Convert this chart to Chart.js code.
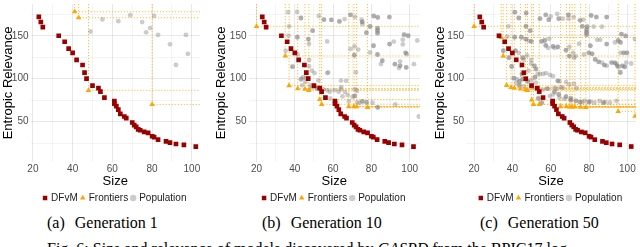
<!DOCTYPE html>
<html>
<head>
<meta charset="utf-8">
<script src="https://cdn.jsdelivr.net/npm/chart.js@4.4.1/dist/chart.umd.min.js"></script>
<style>
  body { margin: 0; background: #fff; width: 640px; height: 247px; overflow: hidden; position: relative; }
  canvas { position: absolute; top: 0; }
  .sub { position: absolute; top: 214.6px; font: 16px/16px "Liberation Serif", "Times New Roman", serif; color: #000; white-space: nowrap; }
  .sub span { margin-left: 10px; }
  #fig { position: absolute; left: 47px; top: 241px; font: 16px/16px "Liberation Serif", "Times New Roman", serif; color: #000; white-space: nowrap; }
</style>
</head>
<body>
<canvas id="g1" width="204" height="213" style="left:0px"></canvas>
<canvas id="g2" width="211" height="213" style="left:213px"></canvas>
<canvas id="g3" width="208" height="213" style="left:432px"></canvas>
<div class="sub" style="left:47px">(a)<span>Generation 1</span></div>
<div class="sub" style="left:262px">(b)<span>Generation 10</span></div>
<div class="sub" style="left:480px">(c)<span>Generation 50</span></div>
<div id="fig">Fig. 6: Size and relevance of models discovered by <i>GASPD</i> from the BPIC17 log.</div>
<script>
// eixos
const Y_MIN = 3, Y_MAX = 187;
const xTickLabels = [20, 40, 60, 80, 100];
const xGrid = [20, 30, 40, 50, 60, 70, 80, 90, 100];
const yTickLabels = [50, 100, 150];
const yGrid = [25, 50, 75, 100, 125, 150, 175];

// DFvM (igual nos tres graficos) - [size, relevance]
const dfvm = [[23,172],[24,166],[25,160],[33,150],[36,143],[38,135],[40,130],[42,122],[45,116],[46,107],
  [47,100],[50,92],[53,89],[54,85],[56,78],[61,74],[61,71],[62,68],[63,64],[64,59],[66,56],[67,54],
  [70,49],[71,46],[72,44],[73,41],[74,40],[76,38],[78,37],[80,33],[81,32],[83,29],[87,27],[89,25.5],
  [92,24],[96,23],[102,21]];

// Geracao 1
const frontiers1 = [[41,178],[43,171],[48,86.5],[80,70]];
const population1 = [[49,155],[55,169],[63,167],[69,174],[75,166],[77,154],[79,159],[81,173],[83,151],
  [89,140],[92,116],[97,151],[98,129]];

// Geracao 10
const frontiers10 = [[20,161],[35,126.5],[37,92],[41.5,88.5],[45.3,87.7],[47.3,86.3],[53,75.8],[54,70.2],
  [68.2,67.6],[70.9,67.6],[72.3,67.4],[78,66.5]];
const population10 = [
  [36.5,177.5],[41.2,177.8],[43.2,170.7],[43.2,170.7],[37,161],[36.7,150],[41.3,148.3],[41.3,148.3],
  [47.1,146.2],[47.1,146.2],[47.4,140.7],[49.3,155.9],[49.3,155.9],[52.5,173],[35.2,132.7],[41.4,128.2],
  [38.8,114],[38.8,114],[47.5,121.8],[47.4,114.4],[48.9,109.3],[50.3,106.6],[43.1,99.1],[44.3,101.7],
  [45.5,96],[48.1,92.3],[50.6,90.3],[52.3,89.2],[43.5,99.7],[45.8,100.9],[52.3,98],[48.1,88.6],[51.5,88.6],
  [43.8,92.3],[55,87.5],[57,86.5],[57.4,107.4],
  [55.2,168.8],[55.2,168.8],[56.9,143.4],[57,106.6],[58.3,84.7],[59.1,168.4],[59.1,168.4],
  [63.3,166.7],[63.3,166.7],[66,169.4],[69.1,174.4],[69.1,174.4],[71.4,172],[74.9,168.8],
  [75.2,166.1],[75.2,166.1],[75.3,163.5],[77.4,153.6],[77.4,153.6],[79.3,160.8],[79.3,160.8],
  [81.2,173],[81.2,173],[83.3,171.4],[83.3,171.4],[83.2,159],[83.2,159],[83.2,156],[83.2,156],
  [83.2,153],[83.2,153],[89.4,171.8],[89.4,171.8],[89.5,140.3],[89.5,140.3],[91.7,143.3],
  [81.1,138.4],[81.1,138.4],[79.3,130.5],[83.2,128.2],[83.2,128.2],[85.7,121],[85.7,121],[85,117],
  [92.3,116.9],[92.3,116.9],[95,115],[95,115],[95,120],[94.4,112.4],[96.4,145.4],[96.4,139.9],
  [97.1,151.3],[97.1,151.3],[99.2,150],[99.2,150],[97.9,130.1],[97.9,130.1],[98.5,128.6],
  [98.2,113.1],[98.2,113.1],[102.2,116.9],[104,144.5],[104.8,56],
  [69.1,134.7],[71.1,127.3],[71.1,127.3],[73.1,133.9],[71.2,137.6],[71.9,107.4],
  [64.1,97.8],[66.8,97.5],[64,87.7],[71.4,87.7],[60.7,86.6],[62.9,84.7],[66.2,84.6],[72.5,86],[64.2,90.3],
  [64.9,79.5],[67.6,81],[70.2,79],[71.3,80],[71.3,80],[58.5,77],[68.2,73.5],[72.6,72.2],[73.8,72],
  [75.3,73.6],[75.3,73.6],[77.5,72.4],[77.5,72.4],[80.6,72],[83.3,66.5],[83.3,66.5],[92.5,70]];

// Geracao 50
const frontiers50 = [[20,161],[34.2,148],[35.2,126.4],[37,92.3],[39.3,89.8],[41,89],[44.2,88.2],
  [46.8,87.3],[47.9,86.5],[50.1,75.2],[51,70.2],[54,70.2],[65.2,67.6],[68.2,67.4],[70,67.3],
  [71.2,67.2],[72.6,67.1],[75.6,67],[78.3,66.5],[95.2,62],[104,56.3]];
const population50 = [
  [37.9,161],[41.3,177.5],[41.3,177.5],[43.3,170.7],[43.3,170.7],[47.2,176.4],[47.2,176.4],
  [47.1,161],[47.1,161],[49.3,155.9],[49.3,155.9],[37.3,149],[41.2,148.3],[41.2,148.3],
  [44.7,148.3],[44.7,148.3],[47,146],[47,146],[48.5,144.1],[49.8,143.4],[49.8,143.4],
  [35.3,132.7],[35.3,132.7],[38.2,124.4],[38.2,124.4],[39.6,114.2],[39.6,114.2],[41.6,132.7],[41.6,132.7],
  [43.3,130.1],[45.4,124.4],[45.4,124.4],[45.9,122.3],[47.6,127],[49.8,121.8],[49.8,117.4],
  [51.5,115],[51.5,115],[52.3,111.2],[52.3,111.2],[48.4,109.3],[45,105.5],[45,105.5],
  [40.8,100.6],[40.8,100.6],[42.5,99.5],[43.7,96.8],[43.7,96.8],[45.4,99.5],[45.4,99.5],
  [48,96.8],[48,96.8],[49.8,98.3],[51.8,101.7],[51.8,101.7],[52.2,95.5],[43.7,92.3],[43.7,92.3],
  [53.2,105.5],[53.5,77],[53.5,77],[55.3,72],[55.3,72],[42,95],[46,91],[50,90],[52,89],[56,87],
  [54.4,169.9],[54.4,169.9],[57.4,174.4],[57.4,174.4],[60,172.5],[59,168.8],[59,168.8],[63.4,175.6],
  [64.2,169.9],[64.2,169.9],[66.3,169.9],[69.2,174.4],[69.2,174.4],[69.3,169.9],[72,171.8],
  [75.3,168],[75.3,168],[77,168.8],[76.5,161],[76.5,161],[79,160.5],[79,160.5],[78.7,157],[78.7,157],
  [78.7,154],[78.7,154],[78.7,151.3],[78.7,151.3],[81.1,173.6],[81.1,173.6],[83.8,171.8],[83.8,171.8],
  [89.2,171.8],[89.2,171.8],[82.4,160.5],[86.7,160.5],[96.9,152],[96.9,152],[99.1,149.8],[99.1,149.8],
  [95.2,144.5],[95.2,144.5],[96.4,142.2],[96.4,142.2],[93.5,142.2],[89.2,140.3],[89.2,140.3],
  [84.2,145.3],[85.8,145.3],[80.7,138.4],[80.7,138.4],[79.9,130.1],[79.9,130.1],[77.3,128.2],
  [81.6,129],[81.6,129],[83.2,122.5],[83.2,122.5],[85,119.7],[85,119.7],[86.7,118.8],[88,115.9],[88,115.9],
  [89.2,115],[91.8,118.8],[91.8,118.8],[93.5,118.5],[93.5,118.5],[94.3,117],[94.8,115],[94.8,115],
  [97.4,115],[97.4,115],[99.4,118.8],[102,117.7],[98.1,130.1],[98.1,130.1],[99.8,130.1],[99.8,130.1],
  [96.5,130.1],[95.4,113.1],[98.6,113.8],[98.6,113.8],[96.3,107.2],[96.3,107.2],[104,146],
  [68,133.2],[68,133.2],[69.7,136.9],[71.7,130.1],[69.7,126.4],[69.7,126.4],[73,126.4],[72.2,124.4],
  [74.8,140.7],[62,135.8],[63.7,136.9],[63.7,136.9],[58.6,135.8],[61.2,137.6],[61.2,137.6],
  [56.9,144.5],[56.9,144.5],[57.4,138.8],[57.4,138.8],[59.2,146.4],[55.2,143.4],[55.2,143.4],
  [54.4,105.5],[56,105.5],[57.5,106.6],[59.6,104.4],[61.2,103],[63.7,97.5],[63.7,97.5],[64.6,96.8],
  [65.4,90.3],[68,96],[69.7,93.1],[72.2,94.2],[58.3,88.4],[58.3,88.4],[62,89.6],[63.2,88.4],[66.3,89.2],
  [73.4,88.9],[62,84.7],[62,84.7],[64.2,81.6],[64.2,81.6],[61.2,81.5],[68,79],[68,79],[70.5,77],[70.5,77],
  [64.6,77.7],[67.1,76.6],[59.5,79.8],[70.5,74.8],[70.5,74.8],[73.1,74.1],[73.1,74.1],[75.3,72.9],[75.3,72.9],
  [76.4,72.7],[77.7,74.1],[79.9,72.9],[79.9,72.9],[80.7,73.4],[82.8,72.2],[85.5,74.1],[87.5,72.2],[87.5,72.2],
  [88.4,72.7],[90.9,72.2],[94.3,74.1]];

const MAJOR = 'rgba(0,0,0,0.09)';
const MINOR = 'rgba(0,0,0,0.045)';

Chart.defaults.font.family = "'Liberation Sans', Arial, sans-serif";

// linhas pontilhadas: de cada fronteira para cima e para a direita
function linhasFronteira(front, xMax) {
    const pts = [];
    front.forEach(([s, r]) => {
        pts.push({ x: s, y: Y_MAX }, { x: s, y: r }, { x: xMax, y: r }, { x: s, y: null });
    });
    return pts;
}

// centra a legenda sob a area do grafico
const centraLegenda = {
    id: 'centraLegenda',
    afterLayout(chart) {
        const lg = chart.legend;
        const area = chart.chartArea;
        const dx = (area.left + area.right) / 2 - (lg.left + lg.right) / 2;
        lg.left += dx;
        lg.right += dx;
    }
};

function desenhaGrafico(id, front, pop, xMin, xMax, larguraEixoY) {
    const toPts = arr => arr.map(([x, y]) => ({ x, y }));
    return new Chart(document.getElementById(id), {
        type: 'scatter',
        data: {
            datasets: [{
                label: 'DFvM',
                data: toPts(dfvm),
                pointStyle: 'rect',
                pointRadius: 3.3,
                backgroundColor: '#990000',
                borderWidth: 0
            }, {
                label: 'Frontiers',
                data: toPts(front),
                pointStyle: 'triangle',
                pointRadius: 3.2,
                backgroundColor: '#ffa500',
                borderWidth: 0
            }, {
                label: 'Population',
                data: toPts(pop),
                pointStyle: 'circle',
                pointRadius: 2.4,
                backgroundColor: 'rgba(128,128,128,0.4)',
                borderWidth: 0
            }, {
                label: 'linhas',
                type: 'line',
                data: linhasFronteira(front, xMax),
                showLine: true,
                spanGaps: false,
                borderColor: 'rgba(255,165,0,0.75)',
                borderWidth: 1,
                borderDash: [1.2, 1.8],
                pointRadius: 0,
                tension: 0,
                fill: false
            }]
        },
        options: {
            responsive: false,
            animation: false,
            events: [],
            devicePixelRatio: 1,
            layout: { padding: 0 },
            plugins: {
                legend: {
                    position: 'bottom',
                    labels: {
                        filter: item => item.datasetIndex < 3,
                        usePointStyle: true,
                        boxWidth: 2,
                        boxHeight: 4.5,
                        padding: 4,
                        color: '#1a1a1a',
                        font: { size: 10 }
                    }
                },
                tooltip: { enabled: false }
            },
            scales: {
                x: {
                    type: 'linear',
                    min: xMin,
                    max: xMax,
                    afterBuildTicks: s => { s.ticks = xGrid.map(v => ({ value: v })); },
                    afterFit: s => { s.height = 27; s.paddingLeft = 0; s.paddingRight = 0; },
                    ticks: {
                        callback: v => xTickLabels.includes(v) ? v : '',
                        color: '#4d4d4d',
                        font: { size: 10 },
                        padding: 1,
                        maxRotation: 0,
                        autoSkip: false
                    },
                    grid: {
                        color: c => xTickLabels.includes(c.tick.value) ? MAJOR : MINOR,
                        drawTicks: false
                    },
                    border: { display: false },
                    title: { display: true, text: 'Size', color: '#000', font: { size: 13 }, padding: 0 }
                },
                y: {
                    type: 'linear',
                    min: Y_MIN,
                    max: Y_MAX,
                    afterBuildTicks: s => { s.ticks = yGrid.map(v => ({ value: v })); },
                    afterFit: s => { s.width = larguraEixoY; s.paddingTop = 0; s.paddingBottom = 0; },
                    ticks: {
                        callback: v => yTickLabels.includes(v) ? v : '',
                        color: '#4d4d4d',
                        font: { size: 10 },
                        padding: 2,
                        autoSkip: false
                    },
                    grid: {
                        color: c => yTickLabels.includes(c.tick.value) ? MAJOR : MINOR,
                        drawTicks: false
                    },
                    border: { display: false },
                    title: { display: true, text: 'Entropic Relevance', color: '#000', font: { size: 13 }, padding: { top: 1, bottom: 0 } }
                }
            }
        },
        plugins: [centraLegenda]
    });
}

desenhaGrafico('g1', frontiers1, population1, 18.8, 104.1, 30.5);
desenhaGrafico('g2', frontiers10, population10, 15.8, 105.4, 35.5);
desenhaGrafico('g3', frontiers50, population50, 15.8, 104.5, 34);
</script>
</body>
</html>
